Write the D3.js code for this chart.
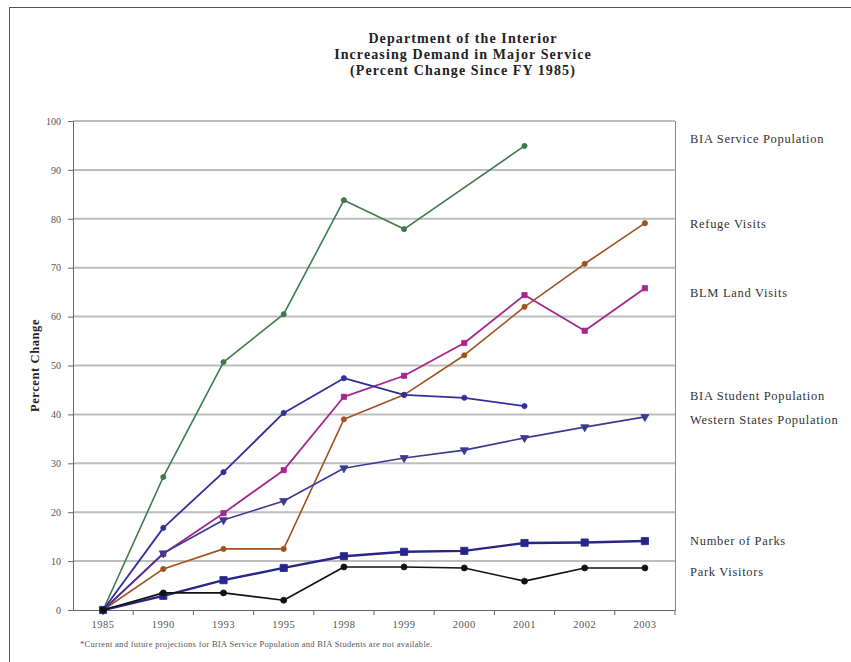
<!DOCTYPE html>
<html>
<head>
<meta charset="utf-8">
<script src="https://cdn.jsdelivr.net/npm/d3@7"></script>
<style>
  body { margin: 0; background: #fff; }
  text { font-family: "Liberation Serif", "DejaVu Serif", serif; }
</style>
</head>
<body>
<div id="chart"></div>
<script>
let w = 851;
let h = 662;
let margin = { top: 121, right: 176, bottom: 52, left: 73 };

let years = ["1985", "1990", "1993", "1995", "1998", "1999", "2000", "2001", "2002", "2003"];

// null = no value for that year
let biaService = [0, 27.2, 50.7, 60.5, 83.8, 77.9, null, 94.9, null, null];
let refugeVisits = [0, 8.4, 12.5, 12.5, 39.0, 44.0, 52.1, 62.0, 70.8, 79.1];
let blmVisits = [0, 11.5, 19.8, 28.6, 43.6, 47.9, 54.6, 64.4, 57.1, 65.8];
let biaStudents = [0, 16.8, 28.2, 40.3, 47.4, 44.0, 43.4, 41.7, null, null];
let westernPop = [0, 11.6, 18.4, 22.3, 29.0, 31.1, 32.7, 35.2, 37.4, 39.5];
let numberOfParks = [0, 2.9, 6.1, 8.6, 11.0, 11.9, 12.1, 13.7, 13.8, 14.1];
let parkVisitors = [0, 3.5, 3.5, 2.0, 8.8, 8.8, 8.6, 5.9, 8.6, 8.6];

let seriesNames = ["BIA Service Population", "Refuge Visits", "BLM Land Visits", "BIA Student Population",
                   "Western States Population", "Number of Parks", "Park Visitors"];
// where each name sits on the right, in percent units
let labelLevels = [96.3, 78.9, 64.8, 43.8, 38.9, 14.1, 7.8];

let yTicks = [0, 10, 20, 30, 40, 50, 60, 70, 80, 90, 100];

let series = [
  { name: seriesNames[0], values: biaService, color: "#3f7a4c", width: 1.6, marker: "circle", size: 2.6 },
  { name: seriesNames[1], values: refugeVisits, color: "#a0521f", width: 1.6, marker: "circle", size: 2.6 },
  { name: seriesNames[2], values: blmVisits, color: "#a4268f", width: 1.8, marker: "square", size: 2.6 },
  { name: seriesNames[3], values: biaStudents, color: "#30309a", width: 1.8, marker: "circle", size: 2.6 },
  { name: seriesNames[4], values: westernPop, color: "#3a3a92", width: 1.6, marker: "triangle", size: 3 },
  { name: seriesNames[5], values: numberOfParks, color: "#26268a", width: 2.4, marker: "square", size: 3.6 },
  { name: seriesNames[6], values: parkVisitors, color: "#111111", width: 1.6, marker: "circle", size: 3 }
];

let svg = d3.select("#chart")
            .append("svg")
            .attr("width", w)
            .attr("height", h);

// outer frame
svg.append("rect")
   .attr("x", 9.5).attr("y", 7.5)
   .attr("width", w + 20).attr("height", h + 20)
   .attr("fill", "none")
   .attr("stroke", "#555");

// title
let title = ["Department of the Interior", "Increasing Demand in Major Service", "(Percent Change Since FY 1985)"];
svg.append("g")
   .selectAll("text")
   .data(title)
   .enter()
   .append("text")
   .attr("x", 463)
   .attr("y", (d, i) => 43 + i * 16)
   .attr("text-anchor", "middle")
   .attr("font-size", 14)
   .attr("letter-spacing", 1.1)
   .attr("font-weight", "bold")
   .attr("fill", "#222")
   .text((d) => d);

let xScale = d3.scaleBand(years, [margin.left, w - margin.right]);
let yScale = d3.scaleLinear([0, 100], [h - margin.bottom, margin.top]);

// gridlines
svg.append("g")
   .selectAll("line")
   .data(yTicks.filter((d) => d > 0))
   .enter()
   .append("line")
   .attr("x1", margin.left)
   .attr("x2", w - margin.right)
   .attr("y1", (d) => yScale(d))
   .attr("y2", (d) => yScale(d))
   .attr("stroke", "#bdbdbd")
   .attr("stroke-width", 2);

// right border of plot
svg.append("line")
   .attr("x1", w - margin.right + 0.5).attr("x2", w - margin.right + 0.5)
   .attr("y1", margin.top).attr("y2", h - margin.bottom)
   .attr("stroke", "#888");

// y axis
let yAxis = d3.axisLeft(yScale).tickValues(yTicks).tickSize(5).tickPadding(7);
let gy = svg.append("g")
   .attr("transform", `translate(${margin.left},0)`)
   .call(yAxis);
gy.select(".domain").attr("stroke", "#666");
gy.selectAll(".tick line").attr("stroke", "#666");
gy.selectAll(".tick text")
  .attr("font-size", 10)
  .attr("fill", "#555")
  .attr("font-family", "Liberation Serif, serif");

// x axis
let xAxis = d3.axisBottom(xScale).tickSize(0).tickPadding(11).tickSizeOuter(0);
let gx = svg.append("g")
   .attr("transform", `translate(0,${h - margin.bottom})`)
   .call(xAxis);
gx.select(".domain").attr("stroke", "#666");
gx.selectAll(".tick text")
  .attr("font-size", 10.5)
  .attr("letter-spacing", 0.5)
  .attr("fill", "#555")
  .attr("font-family", "Liberation Serif, serif");
// ticks between categories
gx.selectAll(".sep")
  .data(years)
  .enter()
  .append("line")
  .attr("x1", (d) => xScale(d) + xScale.bandwidth())
  .attr("x2", (d) => xScale(d) + xScale.bandwidth())
  .attr("y1", 0)
  .attr("y2", 5)
  .attr("stroke", "#666");

// y axis title
svg.append("text")
   .attr("transform", `translate(39,${yScale(50)}) rotate(-90)`)
   .attr("text-anchor", "middle")
   .attr("font-size", 12.5)
   .attr("letter-spacing", 0.6)
   .attr("font-weight", "bold")
   .attr("fill", "#222")
   .text("Percent Change");

// lines
let line = d3.line()
             .x((d) => xScale(d.year) + xScale.bandwidth() / 2)
             .y((d) => yScale(d.value));

series.forEach((s) => {
  let pts = years.map((y, i) => ({ year: y, value: s.values[i] }))
                 .filter((d) => d.value !== null);

  svg.append("path")
     .datum(pts)
     .attr("fill", "none")
     .attr("stroke", s.color)
     .attr("stroke-width", s.width)
     .attr("stroke-linejoin", "round")
     .attr("d", line);

  let symType = s.marker === "square" ? d3.symbolSquare
              : s.marker === "triangle" ? d3.symbolTriangle : d3.symbolCircle;
  let area = s.marker === "square" ? (s.size * 2) * (s.size * 2) : Math.PI * s.size * s.size;

  svg.append("g")
     .selectAll("path")
     .data(pts)
     .enter()
     .append("path")
     .attr("transform", (d) => {
       let t = `translate(${xScale(d.year) + xScale.bandwidth() / 2},${yScale(d.value)})`;
       return s.marker === "triangle" ? t + " rotate(180)" : t;
     })
     .attr("d", d3.symbol(symType, area))
     .attr("fill", s.color)
     .attr("stroke", s.color)
     .attr("stroke-width", 0.8);
});

// right side labels
svg.append("g")
   .selectAll("text")
   .data(seriesNames)
   .enter()
   .append("text")
   .attr("x", 690)
   .attr("y", (d, i) => yScale(labelLevels[i]) + 4)
   .attr("font-size", 12.5)
   .attr("letter-spacing", 0.7)
   .attr("fill", "#333")
   .text((d) => d);

// footnote
svg.append("text")
   .attr("x", 80)
   .attr("y", 647)
   .attr("font-size", 8.5)
   .attr("letter-spacing", 0.3)
   .attr("fill", "#555")
   .text("*Current and future projections for BIA Service Population and BIA Students are not available.");
</script>
</body>
</html>
